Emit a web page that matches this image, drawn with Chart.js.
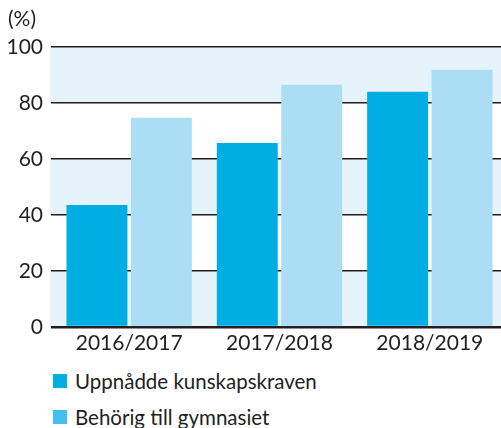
<!DOCTYPE html>
<html>
<head>
<meta charset="utf-8">
<script src="https://cdn.jsdelivr.net/npm/chart.js@4"></script>
<style>
  html, body { margin: 0; padding: 0; background: #fff; overflow: hidden; }
  #wrap { position: relative; width: 501px; height: 428px; overflow: hidden; font-family: Lato, sans-serif; color: #231f20; }
  #box { position: absolute; left: 0; top: 0; width: 505px; height: 360px; }
  .unit { position: absolute; left: 8px; top: 6px; font-size: 21px; line-height: 24px; }
  .leg { position: absolute; left: 53px; font-size: 20.5px; line-height: 24px; white-space: nowrap; }
  .leg span.sw { position: absolute; left: 0; top: 5px; width: 14px; height: 14px; }
  .leg span.tx { position: absolute; left: 22px; top: 0; }
</style>
</head>
<body>
<div id="wrap">
  <div id="box"><canvas id="chart"></canvas></div>
  <div class="unit">(%)</div>
  <div id="legend"></div>
</div>
<script>
// chart data
const categories = ['2016/2017', '2017/2018', '2018/2019'];
const seriesNames = ['Uppnådde kunskapskraven', 'Behörig till gymnasiet'];
const uppnadde = [43.6, 65.7, 84.0];
const behorig = [74.7, 86.5, 91.9];
const yTicks = [0, 20, 40, 60, 80, 100];

const barColors = ['#00aee4', '#abdef5'];
const legendColors = ['#00aee4', '#40c0ec'];
const bandColor = '#e6f3fb';
const ink = '#231f20';

// light bands between every other pair of gridlines
const bands = {
  id: 'bands',
  beforeDraw(chart) {
    const { ctx, chartArea, scales } = chart;
    const y = scales.y;
    ctx.save();
    ctx.fillStyle = bandColor;
    for (let i = 0; i < yTicks.length - 1; i += 2) {
      const top = y.getPixelForValue(yTicks[i + 1]);
      const bottom = y.getPixelForValue(yTicks[i]);
      ctx.fillRect(chartArea.left - 4, top, chartArea.right - chartArea.left + 4, bottom - top);
    }
    ctx.restore();
  }
};

const chart = new Chart(document.getElementById('chart'), {
  type: 'bar',
  data: {
    labels: categories,
    datasets: [
      { label: seriesNames[0], data: uppnadde, backgroundColor: barColors[0] },
      { label: seriesNames[1], data: behorig, backgroundColor: barColors[1] }
    ]
  },
  options: {
    responsive: true,
    maintainAspectRatio: false,
    animation: false,
    events: [],
    layout: { padding: { top: 47, left: 0, right: 0, bottom: 0 } },
    datasets: {
      bar: { categoryPercentage: 0.857, barPercentage: 0.946 }
    },
    plugins: {
      legend: { display: false },
      tooltip: { enabled: false }
    },
    scales: {
      x: {
        grid: { display: false },
        border: { display: false },
        ticks: {
          color: ink,
          font: { family: 'Lato', size: 21 },
          padding: -4
        },
        afterFit(scale) { scale.height = 33; }
      },
      y: {
        min: 0,
        max: 100,
        border: { display: false },
        grid: {
          color: ink,
          lineWidth: ctx => (ctx.tick && ctx.tick.value === 0 ? 2.5 : 1.5),
          drawTicks: true,
          tickLength: 3
        },
        ticks: {
          stepSize: 20,
          color: ink,
          font: { family: 'Lato', size: 21 },
          padding: 8
        },
        afterFit(scale) { scale.width = 54; }
      }
    }
  },
  plugins: [bands]
});

// legend below the plot, one row per series
const legend = document.getElementById('legend');
chart.data.datasets.forEach((ds, i) => {
  const row = document.createElement('div');
  row.className = 'leg';
  row.style.top = (369 + i * 36) + 'px';
  row.innerHTML = '<span class="sw" style="background:' + legendColors[i] + '"></span><span class="tx">' + ds.label + '</span>';
  legend.appendChild(row);
});
</script>
</body>
</html>
